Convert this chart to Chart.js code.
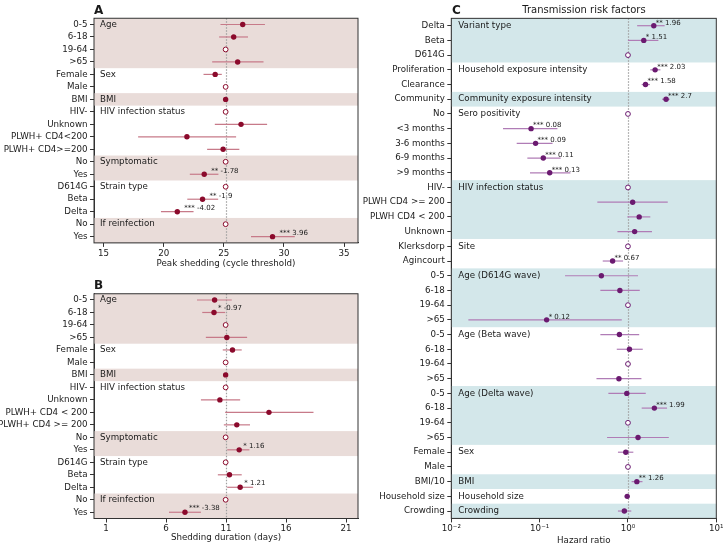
<!DOCTYPE html>
<html lang="en">
<head>
  <meta charset="UTF-8">
  <title>Shedding and transmission risk factors</title>
  <script src="https://cdn.jsdelivr.net/npm/chart.js@4.4.1/dist/chart.umd.min.js"></script>
  <style>
    body { margin: 0; background: #fff; font-family: "DejaVu Sans", sans-serif; color: #1a1a1a; }
    #wrap { position: relative; width: 726px; height: 547px; overflow: hidden; }
    canvas { position: absolute; }
    .lbl { position: absolute; transform: translateY(-50%); line-height: 1; white-space: nowrap; }
    .letter { font-size: 12px; font-weight: bold; }
  </style>
</head>
<body>
<div id="wrap">
  <canvas id="chartA" width="363" height="273" style="left:0;top:0"></canvas>
  <canvas id="chartB" width="363" height="272" style="left:0;top:275px"></canvas>
  <canvas id="chartC" width="363" height="547" style="left:363px;top:0"></canvas>
  <div class="lbl letter" style="left:94px;top:10px">A</div>
  <div class="lbl letter" style="left:94px;top:285px">B</div>
  <div class="lbl letter" style="left:452px;top:10px">C</div>
  <div class="lbl" style="left:584px;top:10px;font-size:10px;transform:translate(-50%,-50%)">Transmission risk factors</div>
</div>

<script>
  // ---- panel A: peak shedding (Ct) ----
  const rowsA = ['0-5', '6-18', '19-64', '>65', 'Female', 'Male', 'BMI', 'HIV-', 'Unknown',
    'PLWH+ CD4<200', 'PLWH+ CD4>=200', 'No', 'Yes', 'D614G', 'Beta', 'Delta', 'No', 'Yes'];
  // null = reference category (open marker on the reference line)
  const estA = [26.57, 25.82, null, 26.15, 24.28, null, 25.15, null, 26.43, 21.93, 24.94, null, 23.37, null, 23.23, 21.13, null, 29.05];
  const loA  = [24.72, 24.61, null, 24.03, 23.31, null, 25.05, null, 24.25, 17.87, 23.61, null, 22.17, null, 21.96, 19.77, null, 27.26];
  const hiA  = [28.42, 27.01, null, 28.30, 24.83, null, 25.25, null, 28.60, 26.02, 26.29, null, 24.55, null, 24.53, 22.48, null, 30.90];
  const notesA = ['', '', '', '', '', '', '', '', '', '', '', '', '** -1.78', '', '** -1.9', '*** -4.02', '', '*** 3.96'];
  const groupsA = ['Age', 'Sex', 'BMI', 'HIV infection status', 'Symptomatic', 'Strain type', 'If reinfection'];
  const groupStartA = [0, 4, 6, 7, 11, 13, 16];
  const refA = 25.15;
  const ticksA = [15, 20, 25, 30, 35];

  // ---- panel B: shedding duration ----
  const rowsB = ['0-5', '6-18', '19-64', '>65', 'Female', 'Male', 'BMI', 'HIV-', 'Unknown',
    'PLWH+ CD4 < 200', 'PLWH+ CD4 >= 200', 'No', 'Yes', 'D614G', 'Beta', 'Delta', 'No', 'Yes'];
  const estB = [10.05, 10.00, null, 11.07, 11.54, null, 10.97, null, 10.49, 14.58, 11.90, null, 12.10, null, 11.29, 12.18, null, 7.58];
  const loB  = [8.58, 9.02, null, 9.32, 10.73, null, 10.90, null, 8.91, 10.93, 10.82, null, 11.10, null, 10.32, 11.10, null, 6.25];
  const hiB  = [11.48, 10.93, null, 12.76, 12.31, null, 11.04, null, 12.18, 18.29, 13.00, null, 12.95, null, 12.31, 13.26, null, 8.91];
  const notesB = ['', '* -0.97', '', '', '', '', '', '', '', '', '', '', '* 1.16', '', '', '* 1.21', '', '*** -3.38'];
  const groupsB = groupsA;
  const groupStartB = groupStartA;
  const refB = 10.97;
  const ticksB = [1, 6, 11, 16, 21];

  // ---- panel C: transmission hazard ratios ----
  const rowsC = ['Delta', 'Beta', 'D614G', 'Proliferation', 'Clearance', 'Community', 'No',
    '<3 months', '3-6 months', '6-9 months', '>9 months', 'HIV-', 'PLWH CD4 >= 200', 'PLWH CD4 < 200',
    'Unknown', 'Klerksdorp', 'Agincourt', '0-5', '6-18', '19-64', '>65', '0-5', '6-18', '19-64', '>65',
    '0-5', '6-18', '19-64', '>65', 'Female', 'Male', 'BMI/10', 'Household size', 'Crowding'];
  const estC = [1.96, 1.51, null, 2.03, 1.58, 2.70, null, 0.08, 0.09, 0.11, 0.13, null, 1.13, 1.34, 1.19, null, 0.67,
    0.50, 0.81, null, 0.12, 0.80, 1.04, null, 0.79, 0.97, 1.99, null, 1.30, 0.945, null, 1.26, 0.98, 0.91];
  const loC = [1.27, 1.00, null, 1.79, 1.43, 2.43, null, 0.0385, 0.055, 0.0726, 0.0778, null, 0.45, 0.985, 0.76, null, 0.518,
    0.194, 0.487, null, 0.0156, 0.487, 0.747, null, 0.44, 0.60, 1.43, null, 0.58, 0.77, null, 1.10, 0.955, 0.77];
  const hiC = [2.60, 2.21, null, 2.33, 1.77, 2.97, null, 0.159, 0.14, 0.173, 0.223, null, 2.82, 1.79, 1.87, null, 0.88,
    1.30, 1.36, null, 0.851, 1.34, 1.47, null, 1.42, 1.59, 2.77, null, 2.90, 1.15, null, 1.46, 1.005, 1.09];
  const notesC = ['** 1.96', '* 1.51', '', '*** 2.03', '*** 1.58', '*** 2.7', '', '*** 0.08', '*** 0.09', '*** 0.11', '*** 0.13',
    '', '', '', '', '', '** 0.67', '', '', '', '* 0.12', '', '', '', '', '', '*** 1.99', '', '', '', '', '** 1.26', '', ''];
  const groupsC = ['Variant type', 'Household exposure intensity', 'Community exposure intensity', 'Sero positivity',
    'HIV infection status', 'Site', 'Age (D614G wave)', 'Age (Beta wave)', 'Age (Delta wave)', 'Sex', 'BMI',
    'Household size', 'Crowding'];
  const groupStartC = [0, 3, 5, 6, 11, 15, 17, 21, 25, 29, 31, 32, 33];
  const refC = 1;
  const ticksC = [0.01, 0.1, 1, 10];
  const tickLabelsC = ['10\u207B\u00B2', '10\u207B\u00B9', '10\u2070', '10\u00B9'];

  Chart.defaults.font.family = '"DejaVu Sans"';
  Chart.defaults.color = '#1a1a1a';
  const FS = 8.7;

  function forestPlugin(p) {
    return {
      id: 'forest',
      beforeDatasetsDraw(chart) {
        const { ctx, chartArea: a, scales: { x, y } } = chart;
        ctx.save();
        // alternating group bands
        p.groupStart.forEach((s, g) => {
          if (g % 2) return;
          const e = g + 1 < p.groupStart.length ? p.groupStart[g + 1] - 1 : p.rows.length - 1;
          const t = y.getPixelForValue(s - 0.5), b = y.getPixelForValue(e + 0.5);
          ctx.fillStyle = p.band;
          ctx.fillRect(a.left, t, a.right - a.left, b - t);
        });
        // group names
        ctx.fillStyle = '#1a1a1a';
        ctx.font = FS + 'px "DejaVu Sans"';
        ctx.textBaseline = 'middle';
        ctx.textAlign = 'left';
        p.groups.forEach((name, g) => ctx.fillText(name, a.left + p.labelDx, y.getPixelForValue(p.groupStart[g])));
        // reference line
        const rx = Math.round(x.getPixelForValue(p.ref)) + 0.5;
        ctx.strokeStyle = '#a0a0a0';
        ctx.lineWidth = 1.2;
        ctx.setLineDash([1.5, 1.5]);
        ctx.beginPath(); ctx.moveTo(rx, a.top); ctx.lineTo(rx, a.bottom); ctx.stroke();
        ctx.setLineDash([]);
        // confidence intervals
        ctx.strokeStyle = p.ci;
        ctx.lineWidth = 1.2;
        p.lo.forEach((lo, i) => {
          if (lo === null) return;
          const yy = y.getPixelForValue(i);
          ctx.beginPath();
          ctx.moveTo(x.getPixelForValue(lo), yy);
          ctx.lineTo(x.getPixelForValue(p.hi[i]), yy);
          ctx.stroke();
        });
        ctx.restore();
      },
      afterDatasetsDraw(chart) {
        const { ctx, chartArea: a, scales: { x, y } } = chart;
        ctx.save();
        ctx.fillStyle = '#1a1a1a';
        ctx.font = '7px "DejaVu Sans"';
        ctx.textBaseline = 'middle';
        ctx.textAlign = 'left';
        p.notes.forEach((n, i) => {
          if (!n) return;
          ctx.fillText(n, x.getPixelForValue(p.est[i]) + p.noteDx, y.getPixelForValue(i) + p.noteDy);
        });
        ctx.strokeStyle = '#333';
        ctx.lineWidth = 1;
        ctx.strokeRect(a.left, a.top, a.right - a.left, a.bottom - a.top);
        ctx.restore();
      }
    };
  }

  function forest(id, p) {
    const effects = [], refs = [];
    p.rows.forEach((r, i) => {
      if (p.est[i] === null) refs.push({ x: p.ref, y: i });
      else effects.push({ x: p.est[i], y: i });
    });
    const xScale = {
      type: p.log ? 'logarithmic' : 'linear',
      min: p.xmin, max: p.xmax,
      afterBuildTicks: s => { s.ticks = p.xticks.map(v => ({ value: v })); },
      afterFit: s => { s.height = p.xh; },
      ticks: {
        autoSkip: false, maxRotation: 0, padding: 1.5,
        font: { size: FS }, color: '#1a1a1a',
        callback: (v, i) => p.xlabels ? p.xlabels[i] : String(v)
      },
      grid: { drawOnChartArea: false, tickLength: 4, color: '#333' },
      border: { color: '#333' },
      title: { display: true, text: p.xtitle, font: { size: FS }, color: '#1a1a1a', padding: { top: 0, bottom: p.titlePad } }
    };
    return new Chart(document.getElementById(id), {
      type: 'scatter',
      data: {
        datasets: [
          { data: effects, pointRadius: 2.7, pointBackgroundColor: p.color, pointBorderWidth: 0 },
          { data: refs, pointRadius: 2.4, pointBackgroundColor: '#fff', pointBorderColor: p.color, pointBorderWidth: 1 }
        ]
      },
      options: {
        responsive: false,
        animation: false,
        devicePixelRatio: 1,
        layout: { padding: p.pad },
        plugins: { legend: { display: false }, tooltip: { enabled: false } },
        scales: {
          x: xScale,
          y: {
            type: 'linear', reverse: true,
            min: -0.5, max: p.rows.length - 0.5,
            afterBuildTicks: s => { s.ticks = p.rows.map((r, i) => ({ value: i })); },
            afterFit: s => { s.width = p.yw; },
            ticks: { autoSkip: false, padding: 2.5, font: { size: FS }, color: '#1a1a1a', callback: v => p.rows[v] },
            grid: { drawOnChartArea: false, tickLength: 4, color: '#333' },
            border: { color: '#333' }
          }
        }
      },
      plugins: [forestPlugin(p)]
    });
  }

  const red = '#8b0a2c', redCi = '#c77a89', redBand = '#e9dcd9';
  const purple = '#6b1a70', purpleCi = '#b07cb6', tealBand = '#d3e7ea';

  forest('chartA', {
    rows: rowsA, est: estA, lo: loA, hi: hiA, notes: notesA, groups: groupsA, groupStart: groupStartA,
    ref: refA, xticks: ticksA, xmin: 14.2, xmax: 36.16, xtitle: 'Peak shedding (cycle threshold)',
    color: red, ci: redCi, band: redBand, labelDx: 6, noteDx: 7, noteDy: -3.4,
    pad: { top: 18.26, right: 4, left: 0, bottom: 0 }, yw: 94, xh: 30.1, titlePad: 4
  });

  forest('chartB', {
    rows: rowsB, est: estB, lo: loB, hi: hiB, notes: notesB, groups: groupsB, groupStart: groupStartB,
    ref: refB, xticks: ticksB, xmin: 0, xmax: 22, xtitle: 'Shedding duration (days)',
    color: red, ci: redCi, band: redBand, labelDx: 6, noteDx: 4, noteDy: -4,
    pad: { top: 18.75, right: 4, left: 0, bottom: 0 }, yw: 94, xh: 28.5, titlePad: 3.7
  });

  forest('chartC', {
    rows: rowsC, est: estC, lo: loC, hi: hiC, notes: notesC, groups: groupsC, groupStart: groupStartC,
    ref: refC, xticks: ticksC, xlabels: tickLabelsC, log: true, xmin: 0.01, xmax: 10, xtitle: 'Hazard ratio',
    color: purple, ci: purpleCi, band: tealBand, labelDx: 7, noteDx: 2, noteDy: -3,
    pad: { top: 18.35, right: 9.7, left: 0, bottom: 0 }, yw: 88.3, xh: 28.6, titlePad: 1.3
  });
</script>
</body>
</html>
